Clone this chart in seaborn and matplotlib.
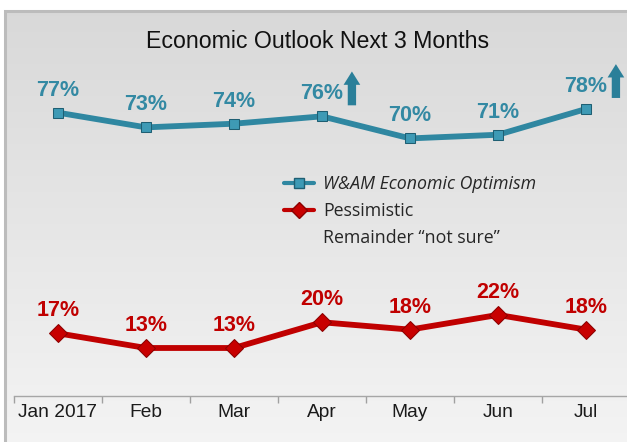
import numpy as np
import pandas as pd
import matplotlib
matplotlib.use("Agg")
import matplotlib.pyplot as plt
from matplotlib.lines import Line2D
from matplotlib.patches import Rectangle
from matplotlib import font_manager
import seaborn as sns

months = ["Jan 2017", "Feb", "Mar", "Apr", "May", "Jun", "Jul"]
optimism = [77, 73, 74, 76, 70, 71, 78]
pessimism = [17, 13, 13, 20, 18, 22, 18]
arrow_months = ["Apr", "Jul"]
series_names = ["W&AM Economic Optimism", "Pessimistic"]
note_label = "Remainder \u201cnot sure\u201d"
title = "Economic Outlook Next 3 Months"

BLUE = "#2F87A1"
BLUE_TXT = "#3389A3"
RED = "#C00000"

sns.set_theme(style="white")
plt.rcParams["font.family"] = ["Liberation Sans", "DejaVu Sans"]


def has_font(name):
    try:
        font_manager.findfont(font_manager.FontProperties(family=name),
                              fallback_to_default=False)
        return True
    except Exception:
        return False


if has_font("Liberation Sans Narrow"):
    lab_font, lab_size = "Liberation Sans Narrow", 18
else:
    lab_font, lab_size = "Liberation Sans", 15.5

W, H = 627, 442
fig = plt.figure(figsize=(W / 100, H / 100), dpi=100)
fig.patch.set_facecolor("white")

# gradient background panel
bx0, by0 = 5, 11
bg = fig.add_axes([bx0 / W, 0, 1 - bx0 / W, (H - by0) / H])
grad = np.linspace(0, 1, 256).reshape(-1, 1)
c_top = np.array([0.85, 0.85, 0.85])
c_bot = np.array([0.955, 0.955, 0.955])
img = c_top[None, None, :] * (1 - grad[..., None]) + c_bot[None, None, :] * grad[..., None]
bg.imshow(img, aspect="auto", extent=[0, 1, 0, 1], origin="upper")
bg.set_axis_off()
fig.patches.append(Rectangle((bx0 / W, -0.05), 1.2, (H - by0) / H + 0.05,
                             transform=fig.transFigure, fill=False,
                             edgecolor="#bcbcbc", lw=2.2, zorder=5))

fig.text(318 / W, 1 - 41 / H, title, ha="center", va="center",
         fontsize=16.7, color="#111111")

# main axes: category boundaries at px 14 + 88k, y=0 at px 395.8
ax_left, ax_right = 14, 630
ax_bot, ax_top = 395.8, 28.1
ax = fig.add_axes([ax_left / W, (H - ax_bot) / H, (ax_right - ax_left) / W,
                   (ax_bot - ax_top) / H])
ax.set_facecolor("none")

x = np.arange(len(months))
df = pd.DataFrame({
    "x": np.concatenate([x, x]),
    "value": optimism + pessimism,
    "series": [series_names[0]] * len(x) + [series_names[1]] * len(x),
})
sns.lineplot(data=df, x="x", y="value", hue="series", style="series",
             palette={series_names[0]: BLUE, series_names[1]: RED},
             markers={series_names[0]: "s", series_names[1]: "D"},
             dashes=False, linewidth=4.2, markersize=8, legend=False, ax=ax)
lines = ax.get_lines()
if len(lines) >= 2:
    lines[0].set_markeredgecolor("#1f5f73")
    lines[0].set_markerfacecolor("#3E9AB5")
    lines[0].set_markersize(7.5)
    lines[1].set_markeredgecolor("#8B0000")
    lines[1].set_markerfacecolor("#C80000")
    lines[1].set_markersize(9)

for vals, col in [(optimism, BLUE_TXT), (pessimism, RED)]:
    for xi, v in zip(x, vals):
        ax.annotate(f"{v}%", (xi, v), xytext=(0, 12.3), textcoords="offset points",
                    ha="center", va="baseline", fontsize=lab_size,
                    fontweight="bold", color=col, family=lab_font)

# up arrows next to selected months
for m in arrow_months:
    i = months.index(m)
    v = optimism[i]
    ax.annotate("", xy=(i + 0.34, v + 12.2), xytext=(i + 0.34, v + 3.0),
                arrowprops=dict(arrowstyle="simple,head_width=1.0,head_length=0.8,tail_width=0.5",
                                color="#2A7F99", lw=0, shrinkA=0, shrinkB=0))

ax.set_xlim(-0.5, len(months) - 0.5)
ax.set_ylim(0, 100)
ax.set_xlabel("")
ax.set_ylabel("")
ax.set_yticks([])
ax.set_xticks(x)
ax.set_xticklabels(months)
ax.set_xticks(np.arange(len(months) + 1) - 0.5, minor=True)
ax.tick_params(axis="x", which="major", length=0, pad=6, labelsize=13.8,
               labelcolor="#1a1a1a")
ax.tick_params(axis="x", which="minor", length=5, width=1, color="#a0a0a0",
               direction="out", bottom=True)
for s in ["top", "right", "left"]:
    ax.spines[s].set_visible(False)
ax.spines["bottom"].set_color("#a6a6a6")
ax.spines["bottom"].set_linewidth(1)

# legend
handles = [
    Line2D([], [], color=BLUE, lw=3, marker="s", markersize=7.5,
           markerfacecolor="#3E9AB5", markeredgecolor="#1f5f73"),
    Line2D([], [], color=RED, lw=3, marker="D", markersize=8,
           markerfacecolor="#C80000", markeredgecolor="#8B0000"),
    Line2D([], [], color="none", lw=0),
]
leg = fig.legend(handles, series_names + [note_label],
                 loc="upper left", bbox_to_anchor=(268 / W, 1 - 159 / H),
                 frameon=False, handlelength=1.7, handletextpad=0.5,
                 labelspacing=0.52, prop={"family": "Open Sans", "size": 12.8})
leg.get_texts()[0].set_fontstyle("italic")

fig.savefig("out.png", dpi=100)
